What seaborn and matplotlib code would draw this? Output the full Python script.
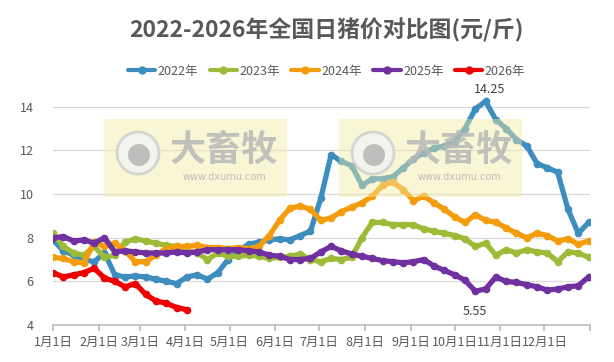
import numpy as np
import pandas as pd
import matplotlib
matplotlib.use("Agg")
import matplotlib.pyplot as plt
from matplotlib.patches import Rectangle, Circle
from matplotlib.lines import Line2D
import seaborn as sns

# -----------------------------
# Data (daily hog price, yuan/jin)
# -----------------------------
days = list(range(0, 365, 7))  # day of year

price_2022 = [7.9, 7.4, 7.2, 7.0, 6.9, 7.3, 6.3, 6.2, 6.25, 6.2, 6.1, 6.0, 5.9,
              6.2, 6.3, 6.1, 6.4, 7.0, 7.4, 7.7, 7.8, 7.9, 7.95, 7.9, 8.1, 8.3,
              9.8, 11.8, 11.5, 11.3, 10.4, 10.7, 10.7, 10.8, 11.2, 11.6, 11.9,
              12.1, 12.2, 12.4, 13.0, 13.9, 14.25, 13.4, 13.0, 12.5, 12.2, 11.4,
              11.2, 11.0, 9.3, 8.2, 8.7]
price_2023 = [8.2, 7.6, 7.3, 7.2, 7.6, 7.1, 7.2, 7.8, 7.95, 7.85, 7.75, 7.65, 7.6,
              7.4, 7.3, 7.0, 7.3, 7.15, 7.15, 7.2, 7.15, 7.05, 7.1, 7.15, 7.25, 7.0,
              6.9, 7.05, 7.0, 7.1, 8.0, 8.7, 8.7, 8.6, 8.6, 8.6, 8.4, 8.3, 8.2,
              8.1, 7.95, 7.6, 7.75, 7.2, 7.45, 7.3, 7.45, 7.35, 7.3, 6.9, 7.35,
              7.3, 7.1]
price_2024 = [7.1, 7.05, 6.9, 6.85, 7.8, 7.6, 7.75, 7.4, 6.9, 6.9, 7.2, 7.5, 7.6,
              7.6, 7.65, 7.55, 7.55, 7.5, 7.55, 7.5, 7.6, 8.1, 8.8, 9.35, 9.45, 9.3,
              8.8, 8.9, 9.2, 9.4, 9.6, 9.9, 10.4, 10.55, 10.2, 9.7, 9.9, 9.6, 9.3,
              8.95, 8.7, 9.05, 8.8, 8.7, 8.45, 8.2, 8.0, 8.2, 8.1, 7.85, 7.95,
              7.7, 7.85]
price_2025 = [8.0, 8.05, 7.85, 7.9, 7.75, 8.0, 7.35, 7.4, 7.35, 7.3, 7.3, 7.3, 7.35,
              7.3, 7.35, 7.45, 7.45, 7.45, 7.45, 7.4, 7.35, 7.2, 7.15, 7.0, 7.0,
              7.05, 7.35, 7.6, 7.4, 7.25, 7.15, 7.05, 6.95, 6.9, 6.85, 6.9, 7.0,
              6.7, 6.5, 6.3, 6.05, 5.55, 5.65, 6.2, 6.0, 5.95, 5.85, 5.75, 5.6,
              5.65, 5.75, 5.8, 6.2]
price_2026 = [6.4, 6.2, 6.3, 6.4, 6.6, 6.15, 6.0, 5.75, 5.9, 5.4, 5.1, 5.0, 4.8, 4.7]

years = ["2022年", "2023年", "2024年", "2025年", "2026年"]
colors = ["#3d8dbf", "#9dbb36", "#f59c0c", "#7030a0", "#f00000"]
series = [price_2022, price_2023, price_2024, price_2025, price_2026]

month_starts = [0, 31, 59, 90, 120, 151, 181, 212, 243, 273, 304, 334]
month_labels = [f"{m}月1日" for m in range(1, 13)]

frames = []
for year, vals in zip(years, series):
    frames.append(pd.DataFrame({"day": days[:len(vals)], "price": vals, "year": year}))
df = pd.concat(frames, ignore_index=True)

# -----------------------------
# Plot
# -----------------------------
sns.set_theme(style="white")
plt.rcParams["font.family"] = ["Noto Sans CJK SC", "DejaVu Sans"]

fig = plt.figure(figsize=(6.14, 3.62), dpi=100)
ax = fig.add_axes([0.0863, 0.1022, 0.8747, 0.633])

sns.lineplot(data=df, x="day", y="price", hue="year", palette=dict(zip(years, colors)),
             hue_order=years, marker="o", markersize=5.5, markeredgewidth=0,
             linewidth=3.8, legend=False, ax=ax)

ax.set_xlim(0, 365)
ax.set_ylim(4, 14.5)
ax.set_yticks([4, 6, 8, 10, 12, 14])
ax.set_xticks(month_starts + [365])
ax.set_xticklabels(month_labels + [""])
ax.set_xlabel("")
ax.set_ylabel("")
ax.yaxis.grid(True, color="#d9d9d9", linewidth=0.9)
ax.xaxis.grid(False)
for side in ["top", "right", "left"]:
    ax.spines[side].set_visible(False)
ax.spines["bottom"].set_color("#bfbfbf")
ax.tick_params(axis="x", colors="#bfbfbf", labelcolor="#595959", length=4,
               direction="out", labelsize=9, pad=4, bottom=True)
ax.tick_params(axis="y", length=0, labelcolor="#595959", labelsize=9, pad=14)

# max / min labels
i_max = int(np.argmax(price_2022))
ax.annotate(f"{price_2022[i_max]:.2f}", (days[i_max], price_2022[i_max]),
            xytext=(3, 4), textcoords="offset points", ha="center", va="bottom",
            fontsize=9, color="#404040", annotation_clip=False)
i_min = int(np.argmin(price_2025))
ax.annotate(f"{price_2025[i_min]:.2f}", (days[i_min], price_2025[i_min]),
            xytext=(0, -10), textcoords="offset points", ha="center", va="top",
            fontsize=9, color="#404040")

# watermark
for x0 in [104, 339]:
    fig.patches.append(Rectangle((x0 / 614, 1 - 197 / 362), 183 / 614, 78 / 362,
                                 transform=fig.transFigure, facecolor="#f2eca6",
                                 alpha=0.45, edgecolor="none", zorder=5))
    fig.patches.append(Circle((x0 + 34, 362 - 153), 21, transform=None,
                              facecolor="#f4f4f4", edgecolor="#cfcfcf", lw=2,
                              alpha=0.85, zorder=6))
    fig.patches.append(Circle((x0 + 35, 362 - 155), 11, transform=None,
                              facecolor="#b5b5b5", edgecolor="none", alpha=0.85, zorder=6))
    fig.text((x0 + 120) / 614, 1 - 150 / 362, "大畜牧", fontsize=26, fontweight="bold",
             color="#b8b8b8", alpha=0.85, ha="center", va="center", zorder=7)
    fig.text((x0 + 120) / 614, 1 - 177 / 362, "www.dxumu.com", fontsize=7,
             color="#b8b8b8", alpha=0.9, ha="center", va="center", zorder=7,
             family="DejaVu Sans")

# title + legend
fig.text(0.532, 1 - 30 / 362, "2022-2026年全国日猪价对比图(元/斤)", fontsize=16.5,
         fontweight="bold", color="#595959", ha="center", va="center")
handles = [Line2D([0], [0], color=c, lw=3, marker="o", markersize=5) for c in colors]
fig.legend(handles, years, loc="center", bbox_to_anchor=(0.532, 1 - 71 / 362), ncol=5,
           frameon=False, fontsize=9, labelcolor="#595959", handlelength=2.2,
           handletextpad=0.2, columnspacing=0.9)

fig.savefig("out.png", dpi=100)
